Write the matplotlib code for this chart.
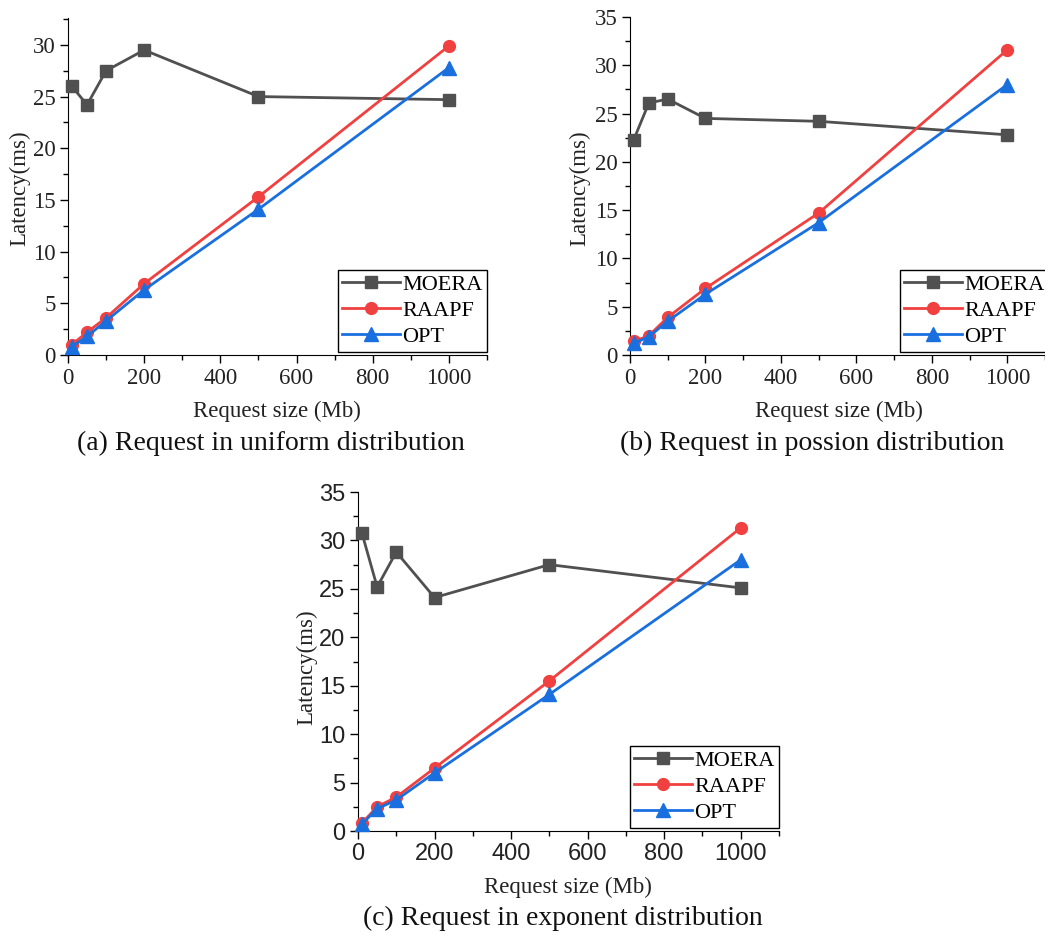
import matplotlib
matplotlib.use("Agg")
import matplotlib.pyplot as plt
from matplotlib.ticker import MultipleLocator

# request sizes (Mb)
sizes = [10, 50, 100, 200, 500, 1000]

# (a) uniform distribution
moera_uniform = [26.0, 24.2, 27.5, 29.5, 25.0, 24.7]
raapf_uniform = [1.0, 2.2, 3.6, 6.9, 15.3, 29.9]
opt_uniform = [0.8, 1.8, 3.3, 6.3, 14.1, 27.8]

# (b) poisson distribution
moera_poisson = [22.3, 26.1, 26.5, 24.5, 24.2, 22.8]
raapf_poisson = [1.4, 2.0, 3.9, 6.9, 14.7, 31.6]
opt_poisson = [1.2, 1.9, 3.5, 6.3, 13.7, 28.0]

# (c) exponent distribution
moera_expo = [30.8, 25.2, 28.8, 24.1, 27.5, 25.1]
raapf_expo = [0.8, 2.5, 3.5, 6.5, 15.5, 31.3]
opt_expo = [0.7, 2.3, 3.2, 6.0, 14.1, 28.0]

series_names = ["MOERA", "RAAPF", "OPT"]
captions = ["(a) Request in uniform distribution",
            "(b) Request in possion distribution",
            "(c) Request in exponent distribution"]

_W = 1045.0
_H = 935.0
_COLORS = ["#505050", "#F14040", "#1A6FDF"]
_MARKERS = ["s", "o", "^"]
_MSIZE = [8.5, 8.5, 9.5]
_SERIF = "Liberation Serif"
_SANS = "Liberation Sans"


def px_axes(fig, left, top, right, bottom):
    return fig.add_axes([left / _W, 1 - bottom / _H, (right - left) / _W, (bottom - top) / _H])


def draw_panel(ax, data, ymax, tick_font, legend_box):
    for n in range(len(data)):
        ax.plot(sizes, data[n], color=_COLORS[n], marker=_MARKERS[n], markersize=_MSIZE[n],
                linewidth=2.0, label=series_names[n], clip_on=False, zorder=3 + n)
    ax.set_xlim(0, 1100)
    ax.set_ylim(0, ymax)
    ax.spines["top"].set_visible(False)
    ax.spines["right"].set_visible(False)
    ax.xaxis.set_major_locator(MultipleLocator(200))
    ax.xaxis.set_minor_locator(MultipleLocator(100))
    ax.yaxis.set_major_locator(MultipleLocator(5))
    ax.yaxis.set_minor_locator(MultipleLocator(2.5))
    size = 16.5 if tick_font == _SERIF else 17
    ax.tick_params(which="major", direction="out", length=6, width=1.0, labelsize=size, pad=3)
    ax.tick_params(which="minor", direction="out", length=3.5, width=1.0)
    for lab in ax.get_xticklabels() + ax.get_yticklabels():
        lab.set_fontfamily(tick_font)
        lab.set_color("#222222")
    leg = ax.legend(loc="lower right", bbox_to_anchor=legend_box, frameon=True, fancybox=False,
                    edgecolor="black", borderaxespad=0, handlelength=2.6, handletextpad=0.1,
                    borderpad=0.2, labelspacing=0.25,
                    prop={"family": _SERIF, "size": 16})
    leg.get_frame().set_linewidth(1.0)
    leg.get_frame().set_alpha(1)


fig = plt.figure(figsize=(10.45, 9.35), dpi=100)

ax_a = px_axes(fig, 68, 18, 487, 355)
draw_panel(ax_a, [moera_uniform, raapf_uniform, opt_uniform], 32.6, _SERIF, (1.0, 0.01))
ax_b = px_axes(fig, 630, 17, 1045, 355)
draw_panel(ax_b, [moera_poisson, raapf_poisson, opt_poisson], 35, _SERIF, (1.01, 0.01))
ax_c = px_axes(fig, 358, 492, 779, 831)
draw_panel(ax_c, [moera_expo, raapf_expo, opt_expo], 35, _SANS, (1.0, 0.01))

label_font = {"family": _SERIF, "size": 16.5, "color": "#222222"}
caption_font = {"family": _SERIF, "size": 20, "color": "#111111"}

# y labels
fig.text(20 / _W, 1 - 188 / _H, "Latency(ms)", rotation=90, ha="center", va="center", fontdict=label_font)
fig.text(580 / _W, 1 - 188 / _H, "Latency(ms)", rotation=90, ha="center", va="center", fontdict=label_font)
fig.text(307 / _W, 1 - 667 / _H, "Latency(ms)", rotation=90, ha="center", va="center", fontdict=label_font)

# x labels
fig.text(277 / _W, 1 - 411 / _H, "Request size (Mb)", ha="center", va="center", fontdict=label_font)
fig.text(839 / _W, 1 - 411 / _H, "Request size (Mb)", ha="center", va="center", fontdict=label_font)
fig.text(568 / _W, 1 - 887 / _H, "Request size (Mb)", ha="center", va="center", fontdict=label_font)

# captions
fig.text(271 / _W, 1 - 443 / _H, captions[0], ha="center", va="center", fontdict=caption_font)
fig.text(812 / _W, 1 - 443 / _H, captions[1], ha="center", va="center", fontdict=caption_font)
fig.text(563 / _W, 1 - 918 / _H, captions[2], ha="center", va="center", fontdict=caption_font)

fig.savefig("out.png", dpi=100)
